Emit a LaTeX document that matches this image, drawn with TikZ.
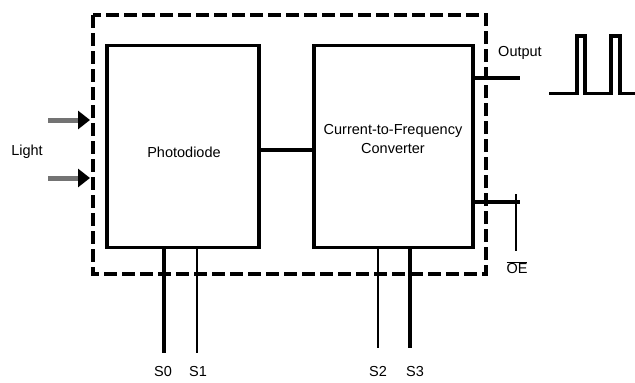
\documentclass[tikz,border=0pt]{standalone}
\usepackage{fontspec}
\setmainfont{Liberation Sans}
\usetikzlibrary{arrows.meta}
\begin{document}
\begin{tikzpicture}[x=1pt,y=-1pt,
  blockbox/.style={draw,line width=3.4pt,minimum height=202pt,inner sep=0pt},
  lbl/.style={font=\fontsize{14.5}{17}\selectfont,inner sep=0pt,align=center},
  wire/.style={line width=3.6pt},
  pin/.style={line width=2.6pt},
  lightarrow/.style={draw=black!55,line width=5pt,-{Triangle[length=12pt,width=18pt,fill=black,color=black]}}
]
\useasboundingbox (0,0) rectangle (635,383);
% dashed enclosure
\draw[line width=3.6pt,dash pattern=on 13pt off 5pt] (93,15) rectangle (486,274);
% blocks
\node[blockbox,minimum width=152pt] (pd) at (183,146.5) {};
\node[blockbox,minimum width=159pt] (cv) at (393.5,146.5) {};
\node[lbl] (pdt) at (184,152) {Photodiode};
\node[lbl] (cvt) at (393,139) {Current-to-Frequency\\[2pt]Converter};
% connection between blocks
\draw[wire] (pd.east |- 0,150) -- (cv.west |- 0,150);
% light arrows
\coordinate (a1s) at (48,120);
\coordinate (a1e) at (90,120);
\coordinate (a2s) at (48,178);
\coordinate (a2e) at (90,178);
\draw[lightarrow] (a1s) -- (a1e);
\draw[lightarrow] (a2s) -- (a2e);
\node[lbl] (light) at (27,152) {Light};
% output
\coordinate (outend) at (520,78);
\draw[wire] (cv.east |- outend) -- (outend);
\node[lbl] (output) at (520,53) {Output};
% waveform
\coordinate (w0) at (549,93.5);
\draw[line width=3.8pt,line join=miter] (w0) -- (577,93.5) -- (577,36) -- (585,36) -- (585,93.5) -- (611,93.5) -- (611,36) -- (620,36) -- (620,93.5) -- (635,93.5);
% OE
\coordinate (oeend) at (520,202);
\draw[wire] (cv.east |- oeend) -- (oeend);
\coordinate (oet) at (516,194);
\coordinate (oeb) at (516,251);
\draw[line width=2.4pt] (oet) -- (oeb);
\node[lbl] (oe) at (517,268) {$\overline{\mbox{OE}}$};
% pins
\foreach \nm/\x/\blk/\yb/\w in {S0/164/pd/353/3.2pt, S1/197/pd/353/2.4pt, S2/378/cv/348/2.6pt, S3/410/cv/348/3.2pt}{
  \coordinate (\nm e) at (\x,\yb);
  \draw[line width=\w] (\blk.south -| \nm e) -- (\nm e);
}
\node[lbl] (s0) at (163,372) {S0};
\node[lbl] (s1) at (198,372) {S1};
\node[lbl] (s2) at (378,372) {S2};
\node[lbl] (s3) at (415,372) {S3};
\end{tikzpicture}
\end{document}
